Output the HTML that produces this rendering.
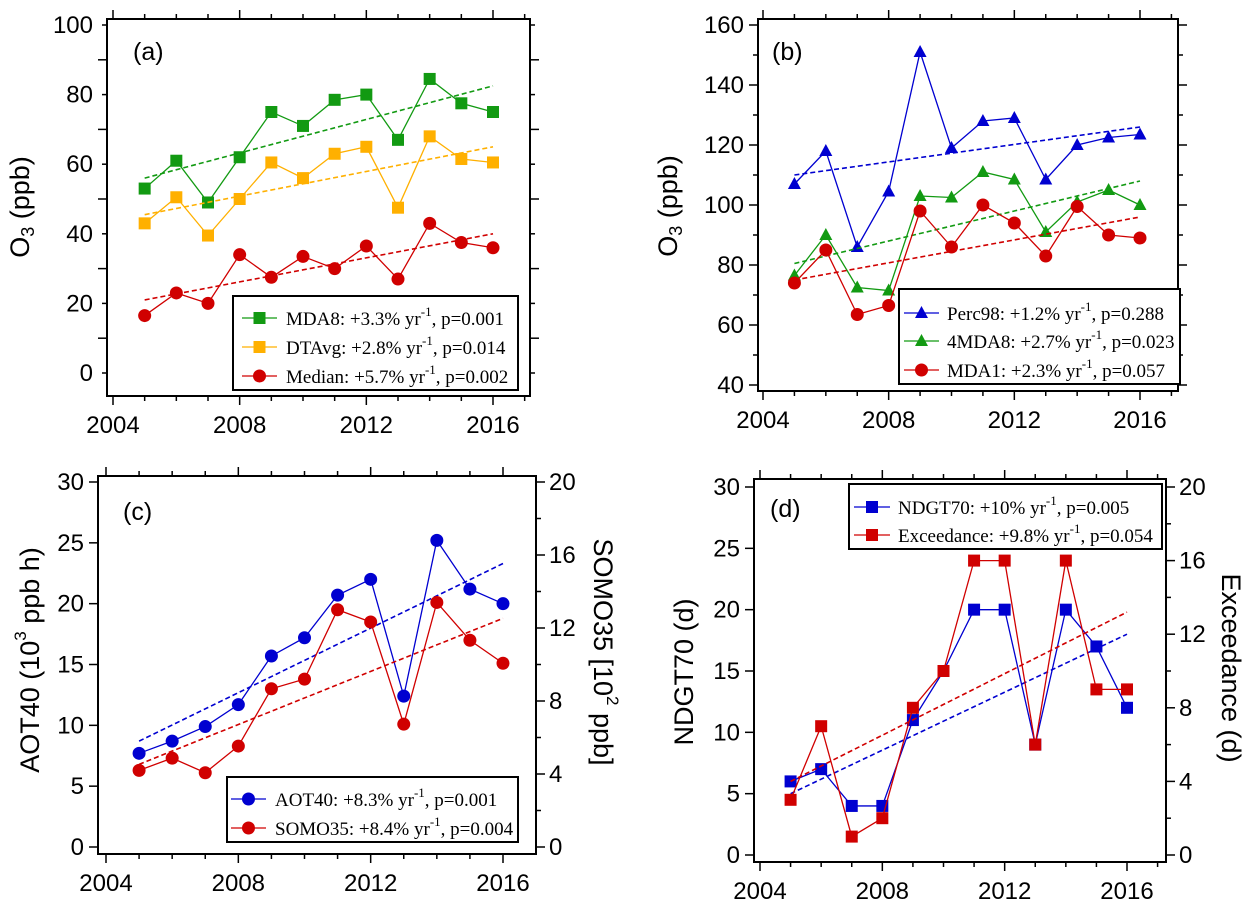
<!DOCTYPE html>
<html><head><meta charset="utf-8"><style>
html,body{margin:0;padding:0;background:#fff;}
svg{display:block;}
text{font-family:"Liberation Sans",Arial,sans-serif;fill:#000;}
.leg{font-family:"Liberation Serif","Times New Roman",serif;font-size:19px;}
</style></head><body>
<svg id="fig" width="1249" height="910" viewBox="0 0 1249 910" xmlns="http://www.w3.org/2000/svg"></svg>
<script>
const years = [2005,2006,2007,2008,2009,2010,2011,2012,2013,2014,2015,2016];
// Panel a
const mda8 = [53,61,49,62,75,71,78.5,80,67,84.5,77.5,75];
const dtavg = [43,50.5,39.5,50,60.5,56,63,65,47.5,68,61.5,60.5];
const median = [16.5,23,20,34,27.5,33.5,30,36.5,27,43,37.5,36];
const trendA = {mda8:[56,82.5], dtavg:[45.5,65], median:[21,40]};
// Panel b
const perc98 = [107,118,86,104.5,151,119,128,129,108.5,120,122.5,123.5];
const mda8x4 = [76.5,90,72.5,71.5,103,102.5,111,108.5,91,101,105,100];
const mda1 = [74,85,63.5,66.5,98,86,100,94,83,99.5,90,89];
const trendB = {perc98:[110,126], mda8x4:[80.5,108], mda1:[75,96]};
// Panel c
const aot40 = [7.7,8.7,9.9,11.7,15.7,17.2,20.7,22,12.4,25.2,21.2,20];
const somo35 = [4.2,4.87,4.07,5.53,8.67,9.2,13,12.33,6.73,13.4,11.33,10.07];
const trendC = {aot40:[8.7,23.3], somo35:[4.53,12.53]};
// Panel d
const ndgt70 = [6,7,4,4,11,15,20,20,9,20,17,12];
const exceed = [3,7,1,2,8,10,16,16,6,16,9,9];
const trendD = {ndgt70:[5,18], exceed:[4,13.2]};
// Tick labels
const xTicks = [2004,2008,2012,2016];
const yTicksA = [0,20,40,60,80,100];
const yTicksB = [40,60,80,100,120,140,160];
const yTicksCD = [0,5,10,15,20,25,30];
const yTicksRight = [0,4,8,12,16,20];

const NS='http://www.w3.org/2000/svg';
const svg=document.getElementById('fig');
function el(tag,attrs,parent){const e=document.createElementNS(NS,tag);for(const k in attrs)e.setAttribute(k,attrs[k]);(parent||svg).appendChild(e);return e;}
function lin(v0,p0,v1,p1){return v=>p0+(v-v0)*(p1-p0)/(v1-v0);}

const GREEN='#129a12',ORANGE='#ffb000',RED='#d00000',BLUE='#0000d0';

function marker(g,type,x,y,color){
  let m;
  if(type==='sq'){m=el('rect',{x:x-6,y:y-6,width:12,height:12,fill:color},g);}
  else if(type==='ci'){m=el('circle',{cx:x,cy:y,r:6.5,fill:color},g);}
  else {m=el('polygon',{points:`${x},${y-7} ${x-6.5},${y+5} ${x+6.5},${y+5}`,fill:color},g);}
  
  
}
function series(g,xs,ys,vals,trend,type,color,name){
  const sg=el('g',{},g);
  
  
  const t=el('line',{x1:xs(years[0]),y1:ys(trend[0]),x2:xs(years[years.length-1]),y2:ys(trend[1]),stroke:color,'stroke-width':1.6,'stroke-dasharray':'5,3'},sg);
  
  
  const pl=el('polyline',{points:vals.map((v,i)=>xs(years[i])+','+ys(v)).join(' '),fill:'none',stroke:color,'stroke-width':1.3},sg);
  
  
  vals.forEach((v,i)=>marker(sg,type,xs(years[i]),ys(v),color));
}
function panel(p){
  const g=el('g',{});
  
  
  const [L,T,R,B]=p.box;
  const xs=p.xs, ys=p.ys;
  const ax=el('g',{stroke:'#000','stroke-width':1.5},g);
  
  
  el('rect',{x:L,y:T,width:R-L,height:B-T,fill:'none','stroke-width':2},ax);
  for(let yr=2004;yr<=2017;yr++){
    const X=xs(yr); if(X<L||X>R)continue;
    const len=(yr%4===0)?9:5;
    el('line',{x1:X,y1:B,x2:X,y2:B+len},ax);
    el('line',{x1:X,y1:T,x2:X,y2:T-len},ax);
  }
  xTicks.forEach(v=>{const t=el('text',{x:xs(v),y:B+37,'text-anchor':'middle','font-size':24},g);t.textContent=v;
    });
  for(let v=p.yMin;v<=p.yMax+1e-9;v+=p.yMinor){
    const Y=ys(v); if(Y<T-0.5||Y>B+0.5)continue;
    const major=Math.abs((v-p.yMin)/p.yMajor-Math.round((v-p.yMin)/p.yMajor))<1e-6;
    const len=major?9:5;
    el('line',{x1:L-len,y1:Y,x2:L,y2:Y},ax);
    if(!p.right) el('line',{x1:R,y1:Y,x2:R+len,y2:Y},ax);
  }
  p.yTicks.forEach(v=>{const t=el('text',{x:L-14,y:ys(v)+8,'text-anchor':'end','font-size':24},g);t.textContent=v;
    });
  if(p.right){
    const rs=p.rs;
    for(let v=0;v<=20;v+=2){const len=(v%4===0)?9:5;el('line',{x1:R,y1:rs(v),x2:R+len,y2:rs(v)},ax);}
    yTicksRight.forEach(v=>{const t=el('text',{x:R+13,y:rs(v)+8,'font-size':24},g);t.textContent=v;
      });
  }
  const pl=el('text',{x:p.lab[0],y:p.lab[1],'font-size':25},g);pl.textContent='('+p.id+')';
  
  return g;
}
function ytitle(x,y,rot,html,name){
  const t=el('text',{x:0,y:0,'text-anchor':'middle','font-size':27,transform:`translate(${x},${y}) rotate(${rot})`,'dominant-baseline':'middle'});
  t.innerHTML=html;
  
  
}
function legend(box,rows,lx,tx){
  const g=el('g',{});
  
  
  el('rect',{x:box[0],y:box[1],width:box[2]-box[0],height:box[3]-box[1],fill:'#fff',stroke:'#000','stroke-width':2},g);
  rows.forEach(r=>{
    const eg=el('g',{},g);
    
    
    el('line',{x1:lx[0],y1:r.y,x2:lx[1],y2:r.y,stroke:r.c,'stroke-width':1.3},eg);
    marker(eg,r.t,(lx[0]+lx[1])/2,r.y,r.c);
    const t=el('text',{x:tx,y:r.y+7,class:'leg'},eg);
    t.innerHTML=`${r.n}: ${r.v}% yr<tspan dy="-9" font-size="13">-1</tspan><tspan dy="9">, p=${r.p}</tspan>`;
  });
}

const xa=lin(2004,113,2016,493), ya=lin(0,373,100,25);
const ga=panel({id:'a',box:[107,19,530,396],xs:xa,ys:ya,yMin:-10,yMax:100,yMinor:10,yMajor:20,yTicks:yTicksA,lab:[133,60]});
series(ga,xa,ya,mda8,trendA.mda8,'sq',GREEN,'mda8');
series(ga,xa,ya,dtavg,trendA.dtavg,'sq',ORANGE,'dtavg');
series(ga,xa,ya,median,trendA.median,'ci',RED,'median');
legend([233,296,518,390],[{y:318,c:GREEN,t:'sq',n:'MDA8',v:'+3.3',p:'0.001'},{y:347,c:ORANGE,t:'sq',n:'DTAvg',v:' +2.8',p:'0.014'},{y:376,c:RED,t:'ci',n:'Median',v:'+5.7',p:'0.002'}],[242,277],286);
ytitle(22,207,-90,'O<tspan dy="7" font-size="18">3</tspan><tspan dy="-7">  (ppb)</tspan>','y-axis-title-a');

const xb=lin(2004,763,2016,1140), yb=lin(40,385,160,25);
const gb=panel({id:'b',box:[758,19,1178,391],xs:xb,ys:yb,yMin:40,yMax:160,yMinor:10,yMajor:20,yTicks:yTicksB,lab:[772,60]});
series(gb,xb,yb,perc98,trendB.perc98,'tr',BLUE,'perc98');
series(gb,xb,yb,mda8x4,trendB.mda8x4,'tr',GREEN,'4mda8');
series(gb,xb,yb,mda1,trendB.mda1,'ci',RED,'mda1');
legend([899,289,1180,384],[{y:313,c:BLUE,t:'tr',n:'Perc98',v:'+1.2',p:'0.288'},{y:341,c:GREEN,t:'tr',n:'4MDA8',v:'+2.7',p:'0.023'},{y:370,c:RED,t:'ci',n:'MDA1',v:'+2.3',p:'0.057'}],[904,939],947);
ytitle(670,206,-90,'O<tspan dy="7" font-size="18">3</tspan><tspan dy="-7">  (ppb)</tspan>','y-axis-title-b');

const xc=lin(2004,106,2016,503), yc=lin(0,847,30,482), rc=lin(0,847,20,482);
const gc=panel({id:'c',box:[98,476,536,854],xs:xc,ys:yc,yMin:0,yMax:30,yMinor:5,yMajor:5,yTicks:yTicksCD,lab:[123,520],right:true,rs:rc});
series(gc,xc,yc,aot40,trendC.aot40,'ci',BLUE,'aot40');
series(gc,xc,rc,somo35,trendC.somo35,'ci',RED,'somo35');
legend([227,777,518,842],[{y:799,c:BLUE,t:'ci',n:'AOT40',v:'+8.3',p:'0.001'},{y:828,c:RED,t:'ci',n:'SOMO35',v:'+8.4',p:'0.004'}],[231,266],275);
ytitle(32,660,-90,'AOT40  (10<tspan dy="-10" font-size="17">3</tspan><tspan dy="10"> ppb h)</tspan>','y-axis-title-c');
ytitle(601,652,90,'SOMO35  [10<tspan dy="-10" font-size="17">2</tspan><tspan dy="10"> ppb]</tspan>','right-y-axis-title-c');

const xd=lin(2004,760,2016,1127), yd=lin(0,855,30,487), rd=lin(0,855,20,487);
const gd=panel({id:'d',box:[754,479,1166,862],xs:xd,ys:yd,yMin:0,yMax:30,yMinor:5,yMajor:5,yTicks:yTicksCD,lab:[770,517],right:true,rs:rd});
series(gd,xd,yd,ndgt70,trendD.ndgt70,'sq',BLUE,'ndgt70');
series(gd,xd,rd,exceed,trendD.exceed,'sq',RED,'exceedance');
legend([849,484,1162,549],[{y:507,c:BLUE,t:'sq',n:'NDGT70',v:'+10',p:'0.005'},{y:535,c:RED,t:'sq',n:'Exceedance',v:'+9.8',p:'0.054'}],[854,890],898);
ytitle(686,672,-90,'NDGT70  (d)','y-axis-title-d');
ytitle(1229,668,90,'Exceedance  (d)','right-y-axis-title-d');
</script>
</body></html>
